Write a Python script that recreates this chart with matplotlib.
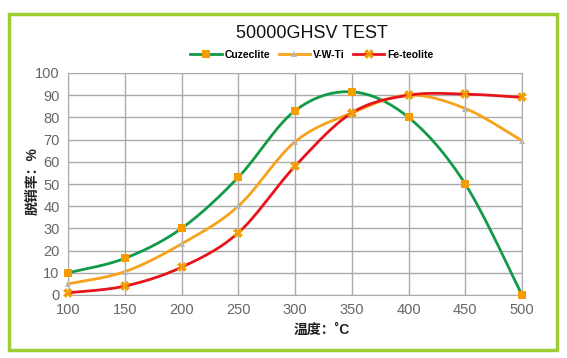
import numpy as np
import matplotlib
matplotlib.use("Agg")
import matplotlib.pyplot as plt
from matplotlib.patches import Rectangle
from matplotlib.lines import Line2D

plt.rcParams['font.family'] = ['Liberation Sans', 'Noto Sans CJK SC', 'DejaVu Sans']

temps = [100, 150, 200, 250, 300, 350, 400, 450, 500]
cuzeclite = [10, 16.5, 30, 53, 83, 91.5, 80, 50, 0]
vwti = [5, 10.5, 23, 40, 69, 82, 90, 84, 69.5]
feteolite = [1, 4, 12.5, 28, 58, 82, 90, 90.5, 89]
y_ticks = list(range(0, 101, 10))


def smooth(xs, ys, n=30):
    # Catmull-Rom style curve through the points (like Excel smoothed lines)
    xs = np.asarray(xs, float)
    ys = np.asarray(ys, float)
    px = np.concatenate([[xs[0]], xs, [xs[-1]]])
    py = np.concatenate([[ys[0]], ys, [ys[-1]]])
    ox, oy = [], []
    for i in range(1, len(px) - 2):
        t = np.linspace(0, 1, n)
        x0, x1, x2, x3 = px[i - 1:i + 3]
        y0, y1, y2, y3 = py[i - 1:i + 3]
        c1x, c1y = x1 + (x2 - x0) / 6, y1 + (y2 - y0) / 6
        c2x, c2y = x2 - (x3 - x1) / 6, y2 - (y3 - y1) / 6
        b0, b1, b2, b3 = (1 - t) ** 3, 3 * t * (1 - t) ** 2, 3 * t ** 2 * (1 - t), t ** 3
        ox.extend(b0 * x1 + b1 * c1x + b2 * c2x + b3 * x2)
        oy.extend(b0 * y1 + b1 * c1y + b2 * c2y + b3 * y2)
    return ox, oy


fig = plt.figure(figsize=(5.67, 3.58), dpi=100)
fig.patches.append(Rectangle((9 / 567, 8 / 358), 548 / 567, 336 / 358, transform=fig.transFigure,
                             fill=False, edgecolor='#9dcc35', linewidth=2.5))

ax = fig.add_axes([68 / 567, 63 / 358, 454 / 567, 222 / 358])

series = [
    ("Cuzeclite", cuzeclite, '#139a48', 's', '#f59c00', 6),
    ("V-W-Ti", vwti, '#f7a21b', '^', '#b8b8b8', 5),
    ("Fe-teolite", feteolite, '#e8141c', 'X', '#f59c00', 7),
]
handles = []
for name, vals, lc, mk, mc, ms in series:
    sx, sy = smooth(temps, vals)
    ax.plot(sx, sy, color=lc, linewidth=2, zorder=3, clip_on=False)
    ax.plot(temps, vals, linestyle='none', marker=mk, color=mc, markersize=ms,
            markeredgewidth=0, zorder=4, clip_on=False)
    handles.append(Line2D([], [], color=lc, linewidth=2, marker=mk, markerfacecolor=mc,
                          markeredgewidth=0, markersize=ms))

ax.set_xlim(100, 500)
ax.set_ylim(0, 100)
ax.set_xticks(temps)
ax.set_yticks(y_ticks)
ax.grid(True, color='#aaaaaa', linewidth=1)
ax.set_axisbelow(True)
for s in ax.spines.values():
    s.set_color('#aaaaaa')
ax.tick_params(length=0, labelsize=10.5, colors='#666666', pad=6)

fig.text(33 / 567, 1 - 181 / 358, "脱销率：%", fontsize=10, fontweight='bold', color='#222222',
         rotation=90, ha='center', va='center')
fig.text(294 / 567, 1 - 330 / 358, "温度：˚C", fontsize=10, fontweight='bold',
         color='#222222', ha='left', va='center')

fig.text(312 / 567, 1 - 33 / 358, "50000GHSV TEST", fontsize=13, ha='center', va='center',
         color='#111111')
fig.legend(handles, [s[0] for s in series], loc='center', bbox_to_anchor=(312 / 567, 1 - 55 / 358),
           ncol=3, frameon=False, handlelength=3, columnspacing=0.8, handletextpad=0.3,
           prop={'weight': 'bold', 'size': 7.5})

fig.savefig("out.png", dpi=100)
